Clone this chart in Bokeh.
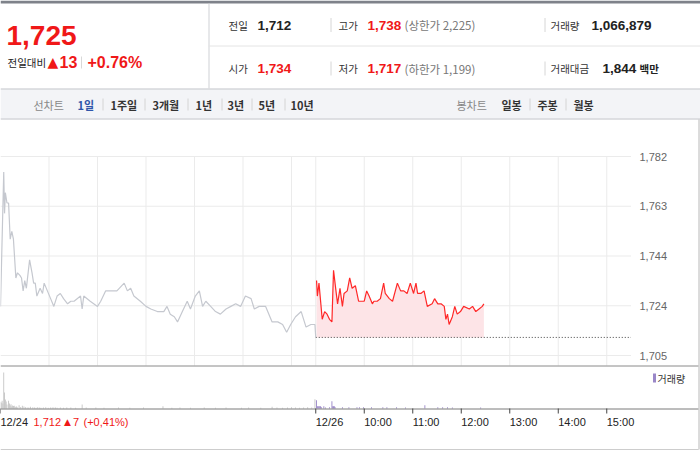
from bokeh.plotting import figure
from bokeh.models import Range1d
from bokeh.core.properties import value
from bokeh.embed import file_html
from bokeh.resources import INLINE

# ---------------- data ----------------
SESSION = 390  # minutes in one session 09:00-15:30

# 12/24 intraday (minutes after 09:00, price)
prev_minutes = [0, 4, 5, 6, 8, 10, 12, 14, 16, 19, 21, 24, 26, 28, 30, 32, 36, 39, 41, 43,
                45, 49, 52, 54, 58, 62, 66, 70, 74, 78, 83, 87, 91, 99, 101, 103, 111, 120, 124, 130,
                136, 144, 153, 157, 161, 165, 173, 180, 186, 194, 202, 206, 210, 215, 219, 225, 231, 235, 241, 246,
                250, 254, 260, 266, 272, 279, 285, 291, 297, 303, 310, 314, 320, 328, 332, 336, 343, 349, 354, 359,
                365, 372, 378, 384, 389, 390]
prev_prices = [1724, 1776, 1760, 1768, 1764, 1764, 1750, 1753, 1750, 1735, 1737, 1736, 1735, 1730, 1734, 1731, 1742, 1737, 1733, 1733,
               1728, 1731, 1729, 1733, 1730, 1727, 1724, 1728, 1729, 1727, 1725, 1726, 1726, 1728, 1723, 1728, 1726, 1724, 1726, 1730,
               1730, 1730, 1733, 1730, 1731, 1728, 1726, 1724, 1723, 1722, 1722, 1724, 1721, 1720, 1718, 1722, 1726, 1723, 1728, 1730,
               1724, 1726, 1724, 1722, 1721, 1723, 1724, 1725, 1724, 1728, 1727, 1723, 1724, 1724, 1721, 1718, 1718, 1717, 1714, 1717,
               1720, 1722, 1716, 1717, 1717, 1712]

# 12/26 intraday (minutes after 09:00, price)
today_minutes = [1, 2, 4, 8, 11, 14, 17, 20, 21, 22, 25, 27, 30, 33, 35, 39, 42, 45, 49, 53,
                 58, 60, 63, 66, 70, 72, 76, 80, 84, 86, 91, 95, 101, 105, 109, 113, 117, 121, 124, 126,
                 130, 134, 138, 144, 147, 151, 155, 159, 161, 163, 165, 169, 172, 175, 179, 183, 190, 194, 198, 202,
                 206, 208]
today_prices = [1734, 1728, 1733, 1719, 1722, 1721, 1719, 1718, 1728, 1738, 1730, 1725, 1731, 1724, 1729, 1730, 1735, 1731, 1732, 1726,
                1726, 1726, 1730, 1728, 1725, 1726, 1726, 1727, 1733, 1729, 1727, 1726, 1733, 1730, 1730, 1729, 1733, 1729, 1733, 1729,
                1729, 1730, 1724, 1725, 1727, 1725, 1725, 1724, 1719, 1721, 1717, 1720, 1724, 1721, 1722, 1724, 1723, 1724, 1722, 1723,
                1724, 1725]
prev_close = 1712

# volumes (shares per minute)
prev_vol_minutes = [0, 1, 2, 3, 4, 5, 6, 7, 8, 10, 11, 12, 13, 14, 15, 16, 17, 18, 19, 20,
                    21, 23, 25, 27, 29, 31, 33, 35, 37, 40, 42, 44, 46, 48, 50, 53, 56, 59, 62, 64,
                    66, 68, 70, 74, 78, 82, 87, 93, 101, 106, 118, 128, 146, 160, 177, 201, 212, 222, 235, 252,
                    266, 279, 298, 307, 322, 336, 342, 349, 355, 360, 365, 370, 375, 380, 385, 389]
prev_volumes = [20000, 18000, 23000, 15000, 108000, 48000, 27000, 21000, 12000, 23000, 15000, 9000, 13000, 6000, 9000, 7500, 8000, 4000, 5000, 6000,
                3000, 10000, 4500, 8000, 6000, 4000, 3000, 3000, 5000, 4000, 3000, 2500, 4000, 3000, 2500, 3000, 4000, 2500, 3000, 3000,
                3000, 3000, 2500, 3000, 2500, 3000, 3000, 2500, 12000, 3000, 3000, 2500, 3000, 2500, 3000, 7000, 2500, 3000, 2500, 3000,
                2500, 3000, 2500, 3000, 2500, 5000, 3000, 2500, 3000, 3500, 3000, 2500, 3000, 3500, 3000, 28000]
today_vol_minutes = [1, 2, 3, 4, 5, 6, 7, 10, 12, 17, 20, 21, 22, 23, 24, 33, 41, 51, 54, 59,
                     69, 83, 88, 100, 111, 135, 151, 157, 163, 169, 204]
today_volumes = [25000, 7000, 7000, 7000, 7000, 7000, 4000, 7000, 3000, 4000, 22000, 7000, 7000, 7000, 4000, 4000, 4000, 4000, 4000, 4000,
                 4000, 4000, 4000, 4000, 3000, 10000, 4000, 4000, 4000, 3000, 3000]

price_ticks = [1705, 1724.25, 1743.5, 1762.75, 1782]
price_tick_labels = ["1,705", "1,724", "1,744", "1,763", "1,782"]
time_ticks = [0, 390, 450, 510, 570, 630, 690, 750]
time_tick_labels = ["12/24", "12/26", "10:00", "11:00", "12:00", "13:00", "14:00", "15:00"]
grid_minutes = [60, 120, 180, 240, 300, 360, 390, 450, 510, 570, 630, 690, 750]

# header texts
cur_price = "1,725"
change_abs = "13"
change_pct = "+0.76%"
row1 = [("전일", "1,712", False), ("고가", "1,738", True), ("거래량", "1,066,879", False)]
row2 = [("시가", "1,734", True), ("저가", "1,717", True), ("거래대금", "1,844", False)]
upper_limit = "(상한가 2,225)"
lower_limit = "(하한가 1,199)"
period_tabs = ["1일", "1주일", "3개월", "1년", "3년", "5년", "10년"]
candle_tabs = ["일봉", "주봉", "월봉"]
prev_day_info = ("1,712", "7", "(+0,41%)")

# ---------------- styles / layout ----------------
W, H = 700, 450
REF_W, REF_H = 700, 450
SY = H / REF_H
KR = "Noto Sans CJK KR"
SANS = "Liberation Sans"
RED = "#f01818"
LINE_RED = "#ff2828"
BLUE = "#2f56aa"


def fs(px):
    return f"{px * SY:.1f}px"


p = figure(width=W, height=H, x_range=Range1d(0, REF_W), y_range=Range1d(REF_H, 0),
           output_backend="svg", toolbar_location=None, tools="",
           x_axis_location=None, y_axis_location=None, min_border=0,
           outline_line_color=None, background_fill_color="white", border_fill_color="white")
p.grid.visible = False

PX_PER_MIN = 48.5 / 60.0
Y_LO, Y_HI = 355, 156          # pixel rows of the lowest / highest price tick
WON_PER_PX = (price_ticks[-1] - price_ticks[0]) / (Y_LO - Y_HI)
Y_VOL0 = 408
VOL_PER_PX = 3000
p.extra_x_ranges = {"t": Range1d(0, REF_W / PX_PER_MIN)}
p.extra_y_ranges = {
    "p": Range1d(price_ticks[0] - (REF_H - Y_LO) * WON_PER_PX, price_ticks[0] + Y_LO * WON_PER_PX),
    "v": Range1d(-(REF_H - Y_VOL0) * VOL_PER_PX, Y_VOL0 * VOL_PER_PX),
}


def label(x, y, s, size, color="#333", font=KR, bold=False, align="left", baseline="middle"):
    p.text(x=[x], y=[y], text=[s], text_font=value(font), text_font_size=fs(size),
           text_color=color, text_font_style="bold" if bold else "normal",
           text_align=align, text_baseline=baseline)


def vsep(x, y0, y1, color="#d6d6d6"):
    p.segment(x0=[x], x1=[x], y0=[y0], y1=[y1], line_color=color, line_width=1)


# ---------------- header ----------------
p.quad(left=0, right=REF_W, top=0, bottom=3, fill_color="#7e828a", line_color=None)
vsep(208.5, 3, 88, "#cfd1d5")
p.segment(x0=[208], x1=[REF_W], y0=[45.5], y1=[45.5], line_color="#e4e4e4")

label(6, 35, cur_price, 28, RED, SANS, True)
label(7, 62, "전일대비", 10.5, "#222")
label(47, 61.5, "▲", 14, RED, "DejaVu Sans")
label(59, 61.5, change_abs, 16, RED, SANS, True)
vsep(81, 56, 68, "#d8d8d8")
label(87, 61.5, change_pct, 16, RED, SANS, True)

label_x = [228, 338, 550]
value_x = [257, 367, 591]
for rows, yc in ((row1, 24.5), (row2, 68)):
    for (name, val, red), lx, vx in zip(rows, label_x, value_x):
        label(lx, yc, name, 10.5, "#333")
        if name == "거래대금":
            label(602, yc, val, 13.5, "#222", SANS, True)
            label(639, yc, "백만", 10.5, "#222", KR, True)
        else:
            label(vx, yc, val, 13.5, RED if red else "#222", SANS, True)
    vsep(330.5, yc - 7, yc + 7)
    vsep(544.5, yc - 7, yc + 7)
label(404, 24.5, upper_limit, 11.5, "#777")
label(404, 68, lower_limit, 11.5, "#777")

# period toolbar
p.quad(left=0, right=REF_W, top=88, bottom=119, fill_color="#f3f4f7", line_color=None)
p.segment(x0=[0, 0], x1=[REF_W, REF_W], y0=[88.5, 118.5], y1=[88.5, 118.5], line_color="#c6c8cc")
TY = 104
label(33, TY, "선차트", 11, "#888")
tab_x = [77, 110, 152, 195, 227, 258, 290]
for i, (t, tx) in enumerate(zip(period_tabs, tab_x)):
    label(tx, TY, t, 11, BLUE if i == 0 else "#333", KR, True)
for sx in [102.5, 144.5, 187.5, 221.5, 251.5, 284.5]:
    vsep(sx, TY - 6, TY + 6, "#d4d4d4")
label(456, TY, "봉차트", 11, "#888")
for t, tx in zip(candle_tabs, [501, 537, 573]):
    label(tx, TY, t, 11, "#333", KR, True)
for sx in [529.5, 565.5]:
    vsep(sx, TY - 6, TY + 6, "#d4d4d4")

# ---------------- price chart ----------------
today_x = [SESSION + m for m in today_minutes]
p.segment(x0=0, x1=2 * SESSION, y0=price_ticks, y1=price_ticks,
          x_range_name="t", y_range_name="p", line_color="#ebebeb", line_width=1)
p.segment(x0=grid_minutes, x1=grid_minutes, y0=Y_HI, y1=365,
          x_range_name="t", line_color="#ebebeb", line_width=1)

p.varea(x=today_x, y1=prev_close, y2=today_prices, x_range_name="t", y_range_name="p",
        fill_color="#fde4e7")
p.segment(x0=[SESSION], x1=[2 * SESSION], y0=[prev_close], y1=[prev_close],
          x_range_name="t", y_range_name="p", line_color="#444444", line_dash="1 2", line_width=1)
p.line(prev_minutes, prev_prices, x_range_name="t", y_range_name="p",
       line_color="#c5c8cf", line_width=1.2)
p.line(today_x, today_prices, x_range_name="t", y_range_name="p",
       line_color=LINE_RED, line_width=1.2)

p.text(x=639, y=price_ticks, text=price_tick_labels, y_range_name="p",
       text_font=value(SANS), text_font_size=fs(11), text_color="#666",
       text_align="left", text_baseline="middle")

# ---------------- volume panel ----------------
p.segment(x0=[0], x1=[698], y0=[365.5], y1=[365.5], line_color="#8a8a8a", line_width=1)
p.vbar(x=prev_vol_minutes, top=prev_volumes, bottom=0, width=1.1,
       x_range_name="t", y_range_name="v", fill_color="#c4c4c4", line_color=None)
p.vbar(x=[SESSION + m for m in today_vol_minutes], top=today_volumes, bottom=0, width=1.1,
       x_range_name="t", y_range_name="v", fill_color="#9784c6", line_color=None)
p.quad(left=652.5, right=655.5, top=373, bottom=382, fill_color="#9a87c8", line_color=None)
label(657, 377.5, "거래량", 10, "#333")

p.segment(x0=[0], x1=[698], y0=[Y_VOL0 + 0.5], y1=[Y_VOL0 + 0.5], line_color="#7a7a7a", line_width=1)
p.segment(x0=time_ticks, x1=time_ticks, y0=Y_VOL0, y1=413, x_range_name="t",
          line_color="#444", line_width=1)
p.text(x=time_ticks, y=421.5, text=time_tick_labels, x_range_name="t", x_offset=0,
       text_font=value(SANS), text_font_size=fs(11), text_color="#222",
       text_align="left", text_baseline="middle")
label(33, 421.5, prev_day_info[0], 11, RED, SANS)
label(63.5, 421.5, "▲", 9, RED, "DejaVu Sans")
label(72.5, 421.5, prev_day_info[1], 11, RED, SANS)
label(83, 421.5, prev_day_info[2], 11, RED, SANS)

# outer box
p.segment(x0=[698.5], x1=[698.5], y0=[119], y1=[449], line_color="#b8b8b8", line_width=1)
p.segment(x0=[0], x1=[698], y0=[449.5], y1=[449.5], line_color="#9a9a9a", line_width=1)

open("out.html", "w").write(file_html(p, INLINE))
